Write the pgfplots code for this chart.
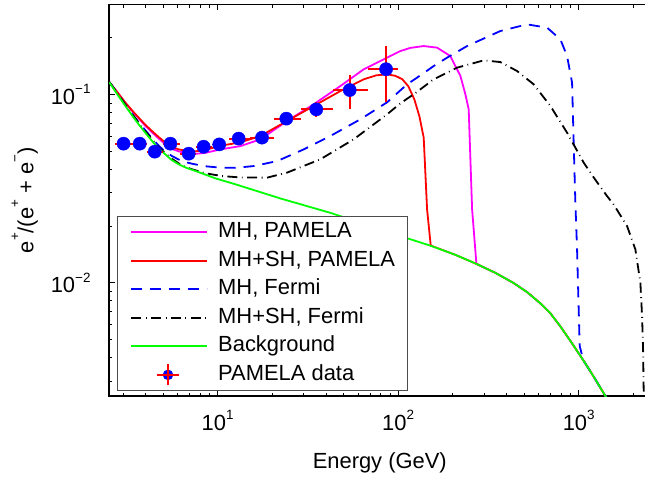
\documentclass[border=0pt]{standalone}
\usepackage{fontspec}
\setmainfont{Liberation Sans}
\usepackage{pgfplots}
\pgfplotsset{compat=1.18}
\usepackage{pgfplotstable}
\newcommand\sups[2][10.5pt]{\raisebox{#1}{\fontsize{13.5}{13.5}\selectfont #2}}

\definecolor{mg}{rgb}{1,0,1}
\definecolor{gr}{rgb}{0,1,0}

\pgfplotstableread{
x y
2.512 0.1162
2.782 0.1025
3.081 0.0901
3.369 0.0812
3.650 0.0746
3.976 0.0680
4.331 0.0628
4.694 0.0584
5.131 0.0543
5.590 0.0513
6.081 0.0498
6.794 0.0486
7.525 0.0483
8.548 0.0489
10.35 0.0510
13.36 0.0531
17.25 0.0577
24.24 0.0722
34.02 0.0885
47.84 0.1107
64.41 0.1358
86.80 0.1566
102.8 0.1698
116.8 0.1765
138.5 0.1805
164.3 0.1770
194.6 0.1597
221.2 0.1251
235.7 0.1000
245.9 0.0832
256.8 0.0245
271.3 0.01258
345.6 0.01127
434.7 0.009975
519.7 0.008882
613.5 0.007763
697.1 0.006871
791.8 0.005858
911.2 0.004818
1062 0.003867
1222 0.003123
1388 0.002551
1442 0.0024
}\mhpam

\pgfplotstableread{
x y
2.512 0.1162
2.782 0.1025
3.081 0.0903
3.369 0.0818
3.650 0.0752
3.976 0.0689
4.331 0.0638
4.694 0.0595
5.131 0.0554
5.590 0.0526
6.081 0.0510
6.794 0.0501
7.525 0.0498
8.548 0.0507
10.35 0.0533
13.36 0.0556
17.25 0.0601
24.24 0.0722
34.02 0.0867
47.84 0.1041
64.41 0.1202
75.73 0.1262
86.80 0.1277
96.50 0.1254
105.5 0.1202
113.9 0.1103
122.9 0.0941
131.1 0.0764
138.5 0.0589
144.6 0.0245
151.5 0.01574
207.5 0.01405
271.3 0.01258
345.6 0.01127
434.7 0.009975
519.7 0.008882
613.5 0.007763
697.1 0.006871
791.8 0.005858
911.2 0.004818
1062 0.003867
1222 0.003123
1388 0.002551
1442 0.0024
}\mhshpam

\pgfplotstableread{
x y
2.512 0.1162
2.782 0.1012
3.081 0.0880
3.369 0.0783
3.650 0.0710
3.976 0.0644
4.331 0.0584
4.694 0.0536
5.131 0.0495
5.590 0.0470
6.351 0.0441
7.215 0.0428
8.548 0.0415
10.35 0.0408
12.53 0.0407
15.83 0.0416
21.34 0.0442
29.96 0.0510
42.11 0.0601
61.74 0.0737
86.80 0.0907
112.0 0.1130
127.3 0.1227
157.3 0.1413
186.6 0.1566
240.9 0.1805
368.4 0.2169
517.7 0.2353
668.3 0.2260
791.8 0.1960
862.3 0.1597
919.2 0.1154
938.2 0.0554
958.7 0.0266
979.7 0.01502
1013 0.004606
1062 0.003867
1222 0.003123
1388 0.002551
1442 0.0024
}\mhfermi

\pgfplotstableread{
x y
2.512 0.1162
2.782 0.1012
3.081 0.0880
3.369 0.0783
3.650 0.0706
3.976 0.0636
4.331 0.0577
4.694 0.0526
5.131 0.0486
5.590 0.0454
6.081 0.0430
6.622 0.0412
7.215 0.0400
8.548 0.0381
10.58 0.0368
13.36 0.0362
18.78 0.0361
24.24 0.0384
37.07 0.0452
56.69 0.0577
86.80 0.0783
102.8 0.0896
121.8 0.1000
157.3 0.1202
212.1 0.1386
297.7 0.1515
368.4 0.1484
455.7 0.1330
563.3 0.1130
697.1 0.0867
862.3 0.0626
1066 0.0434
1211 0.0362
1437 0.0288
1563 0.0260
1854 0.01998
2061 0.01502
2197 0.0100
2245 0.006646
2274 0.004423
2291 0.002712
2297 0.0024
}\mhshfermi

\pgfplotstableread{
x y
2.512 0.1158
2.782 0.1000
3.081 0.0867
3.369 0.0769
3.650 0.0693
3.976 0.0625
4.331 0.0565
4.694 0.0516
5.131 0.0480
5.540 0.0449
6.081 0.0425
6.708 0.0407
7.525 0.0392
9.712 0.0358
12.53 0.0333
22.25 0.0280
42.11 0.02348
102.8 0.01768
150.8 0.01572
207.5 0.01405
271.3 0.01258
345.6 0.01127
434.7 0.009975
519.7 0.008882
613.5 0.007763
697.1 0.006871
791.8 0.005858
911.2 0.004818
1062 0.003867
1222 0.003123
1388 0.002551
1442 0.0024
}\bkg

\pgfplotstableread{
x y exm exp eym eyp
3.01 0.0547 0.31 0.33 0.0027 0.0027
3.70 0.0547 0.36 0.37 0.0027 0.0027
4.48 0.0496 0.41 0.47 0.0025 0.0025
5.47 0.0547 0.52 0.68 0.0027 0.0027
6.91 0.0484 0.76 0.69 0.0025 0.0025
8.36 0.0527 0.76 0.89 0.0027 0.0027
10.2 0.0542 0.95 1.36 0.0027 0.0027
13.07 0.0582 1.51 2.13 0.0030 0.0030
17.6 0.0589 2.4 3.0 0.0035 0.0035
24.0 0.0743 3.4 5.1 0.0056 0.0056
35.2 0.0832 6.1 8.4 0.0075 0.0075
53.9 0.1054 10.3 14.0 0.022 0.022
85.7 0.136 17.8 14.3 0.045 0.045
}\pamdata

\begin{document}
\begin{tikzpicture}[font=\fontsize{22}{26}\selectfont]
\begin{axis}[
  scale only axis,
  width=541.5bp, height=391.5bp,
  xmode=log, ymode=log,
  xmin=2.5, xmax=2500, ymin=0.0025, ymax=0.3,
  axis line style={line width=1.4bp},
  ytick pos=left,
  xtick={10,100,1000},
  xticklabels={10\sups{1},10\sups{2},10\sups{3}},
  ytick={0.01,0.1},
  yticklabels={10\sups{−2},10\sups{−1}},
  minor xtick={3,4,5,6,7,8,9,20,30,40,50,60,70,80,90,200,300,400,500,600,700,800,900,2000},
  minor ytick={0.003,0.004,0.005,0.006,0.007,0.008,0.009,0.02,0.03,0.04,0.05,0.06,0.07,0.08,0.09,0.2},
  tick style={black, line width=0.8bp},
  major tick length=6bp, minor tick length=3.5bp,
  xticklabel style={anchor=base, yshift=-34bp},
  yticklabel style={anchor=east, xshift=-15bp},
  xlabel={Energy (GeV)},
  xlabel style={at={(axis description cs:0.5,0)}, anchor=base, yshift=-72bp},
  ylabel={e\sups[14pt]{+}/(e\sups[14pt]{+} + e\sups[14pt]{−})},
  ylabel style={at={([xshift=-75.7bp]axis description cs:0,0.5)}, anchor=base},
  legend cell align=left,
  legend image code/.code={\draw[#1] (9.7bp,0bp) -- (85.7bp,0bp); \path (0bp,0bp) (86bp,0bp);},
  legend style={at={(axis description cs:0,0)}, anchor=south west,
    xshift=8.3bp, yshift=5bp, draw=black!70, line width=0.8bp,
    inner xsep=3bp, inner ysep=1.5bp, row sep=0pt,
    nodes={inner xsep=9.7bp, inner ysep=3.75bp, text height=16bp, text depth=5bp}},
]
\addplot[mg, line width=1.8bp] table[x=x,y=y] {\mhpam};
\addlegendentry{MH, PAMELA}
\addplot[red, line width=1.8bp] table[x=x,y=y] {\mhshpam};
\addlegendentry{MH+SH, PAMELA}
\addplot[blue, line width=1.8bp, dash pattern=on 11bp off 8bp] table[x=x,y=y] {\mhfermi};
\addlegendentry{MH, Fermi}
\addplot[black, line width=1.8bp, dash pattern=on 10bp off 4.5bp on 0.8bp off 4.5bp] table[x=x,y=y] {\mhshfermi};
\addlegendentry{MH+SH, Fermi}
\addplot[gr, line width=1.8bp] table[x=x,y=y] {\bkg};
\addlegendentry{Background}
\addplot[only marks, mark=*, mark size=6.6bp, blue, forget plot] table[x=x,y=y] {\pamdata};
\addplot[draw=none, mark=none,
  legend image code/.code={\path (0bp,0bp) -- (86bp,0bp);
    \fill[blue] (46.4bp,0bp) circle (5.3bp);
    \draw[red, solid, line width=1.8bp] (35.4bp,0bp) -- (57.4bp,0bp) (46.4bp,-10.5bp) -- (46.4bp,10.5bp);},
  error bars/.cd, x dir=both, x explicit, y dir=both, y explicit, error mark=none,
  error bar style={draw=red, solid, line width=1.8bp}]
  table[x=x, y=y, x error minus=exm, x error plus=exp, y error minus=eym, y error plus=eyp] {\pamdata};
\addlegendentry{PAMELA data}
\coordinate (sw) at (rel axis cs:0,0);
\coordinate (ne) at (rel axis cs:1,1);
\end{axis}
\pgfresetboundingbox
\useasboundingbox ([shift={(-109bp,-81bp)}]sw) rectangle ([shift={(-5.5bp,4.5bp)}]ne);
\end{tikzpicture}
\end{document}
